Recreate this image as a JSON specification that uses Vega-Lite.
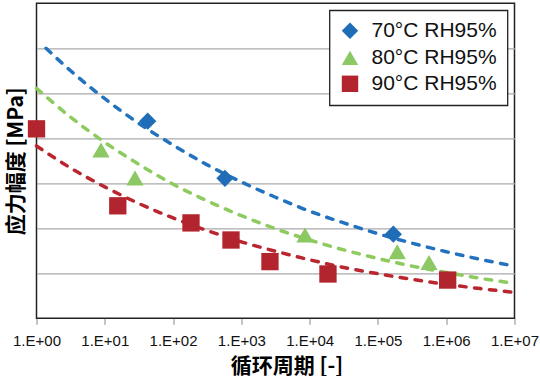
{
  "$schema": "https://vega.github.io/schema/vega-lite/v6.json",
  "width": 478,
  "height": 315,
  "autosize": {"type": "none"},
  "padding": {"left": 36.5, "top": 3.3, "right": 25.5, "bottom": 57.7},
  "background": "white",
  "datasets": {
    "fit": [
      {"series": "70°C RH95%", "N": 1.38, "S": 6.00},
      {"series": "70°C RH95%", "N": 3.162, "S": 5.50},
      {"series": "70°C RH95%", "N": 10, "S": 4.88},
      {"series": "70°C RH95%", "N": 31.62, "S": 4.33},
      {"series": "70°C RH95%", "N": 100, "S": 3.85},
      {"series": "70°C RH95%", "N": 316.2, "S": 3.41},
      {"series": "70°C RH95%", "N": 1000, "S": 3.03},
      {"series": "70°C RH95%", "N": 3162, "S": 2.69},
      {"series": "70°C RH95%", "N": 10000, "S": 2.38},
      {"series": "70°C RH95%", "N": 31623, "S": 2.12},
      {"series": "70°C RH95%", "N": 100000, "S": 1.88},
      {"series": "70°C RH95%", "N": 316228, "S": 1.67},
      {"series": "70°C RH95%", "N": 1000000, "S": 1.48},
      {"series": "70°C RH95%", "N": 3162278, "S": 1.31},
      {"series": "70°C RH95%", "N": 10000000, "S": 1.16},
      {"series": "80°C RH95%", "N": 1, "S": 5.11},
      {"series": "80°C RH95%", "N": 3.162, "S": 4.47},
      {"series": "80°C RH95%", "N": 10, "S": 3.91},
      {"series": "80°C RH95%", "N": 31.62, "S": 3.42},
      {"series": "80°C RH95%", "N": 100, "S": 2.98},
      {"series": "80°C RH95%", "N": 316.2, "S": 2.61},
      {"series": "80°C RH95%", "N": 1000, "S": 2.28},
      {"series": "80°C RH95%", "N": 3162, "S": 1.99},
      {"series": "80°C RH95%", "N": 10000, "S": 1.74},
      {"series": "80°C RH95%", "N": 31623, "S": 1.52},
      {"series": "80°C RH95%", "N": 100000, "S": 1.33},
      {"series": "80°C RH95%", "N": 316228, "S": 1.16},
      {"series": "80°C RH95%", "N": 1000000, "S": 1.02},
      {"series": "80°C RH95%", "N": 3162278, "S": 0.888},
      {"series": "80°C RH95%", "N": 10000000, "S": 0.776},
      {"series": "90°C RH95%", "N": 1, "S": 3.83},
      {"series": "90°C RH95%", "N": 3.162, "S": 3.34},
      {"series": "90°C RH95%", "N": 10, "S": 2.92},
      {"series": "90°C RH95%", "N": 31.62, "S": 2.55},
      {"series": "90°C RH95%", "N": 100, "S": 2.23},
      {"series": "90°C RH95%", "N": 316.2, "S": 1.95},
      {"series": "90°C RH95%", "N": 1000, "S": 1.70},
      {"series": "90°C RH95%", "N": 3162, "S": 1.49},
      {"series": "90°C RH95%", "N": 10000, "S": 1.30},
      {"series": "90°C RH95%", "N": 31623, "S": 1.13},
      {"series": "90°C RH95%", "N": 100000, "S": 0.99},
      {"series": "90°C RH95%", "N": 316228, "S": 0.865},
      {"series": "90°C RH95%", "N": 1000000, "S": 0.755},
      {"series": "90°C RH95%", "N": 3162278, "S": 0.66},
      {"series": "90°C RH95%", "N": 10000000, "S": 0.576}
    ],
    "obs": [
      {"series": "70°C RH95%", "N": 42.5, "S": 4.38},
      {"series": "70°C RH95%", "N": 575, "S": 3.11},
      {"series": "70°C RH95%", "N": 168000, "S": 1.87},
      {"series": "80°C RH95%", "N": 8.8, "S": 3.74},
      {"series": "80°C RH95%", "N": 27.7, "S": 3.12},
      {"series": "80°C RH95%", "N": 8550, "S": 1.85},
      {"series": "80°C RH95%", "N": 192000, "S": 1.48},
      {"series": "80°C RH95%", "N": 560000, "S": 1.24},
      {"series": "90°C RH95%", "N": 1, "S": 4.21},
      {"series": "90°C RH95%", "N": 15.5, "S": 2.50},
      {"series": "90°C RH95%", "N": 183, "S": 2.12},
      {"series": "90°C RH95%", "N": 705, "S": 1.74},
      {"series": "90°C RH95%", "N": 2624, "S": 1.26},
      {"series": "90°C RH95%", "N": 18550, "S": 0.985},
      {"series": "90°C RH95%", "N": 1050000, "S": 0.85}
    ]
  },
  "layer": [
    {
      "data": {"name": "fit"},
      "mark": {"type": "line", "strokeWidth": 3.5, "strokeDash": [6.5, 8.5], "strokeCap": "round", "interpolate": "monotone"},
      "encoding": {
        "x": {
          "field": "N", "type": "quantitative",
          "scale": {"type": "log", "domain": [1, 10000000], "nice": false},
          "axis": {
            "title": "循环周期 [-]",
            "values": [1, 10, 100, 1000, 10000, 100000, 1000000, 10000000],
            "labelExpr": "'1.E+0' + round(log(datum.value)/LN10)",
            "grid": false, "domain": false,
            "tickColor": "#888", "tickSize": 6, "tickWidth": 1,
            "labelFont": "Liberation Sans", "labelFontSize": 15, "labelColor": "#111",
            "labelPadding": 9, "labelFlush": false, "labelOverlap": false,
            "titleFont": "Noto Sans CJK SC", "titleFontSize": 21, "titleFontWeight": "bold",
            "titleColor": "#000", "titlePadding": 7, "titleX": 250
          }
        },
        "y": {
          "field": "S", "type": "quantitative",
          "scale": {"domain": [0, 7], "nice": false, "zero": false},
          "axis": {
            "title": "应力幅度 [MPa]",
            "values": [1, 2, 3, 4, 5, 6],
            "labels": false, "ticks": false, "domain": false,
            "grid": true, "gridColor": "#aaa", "gridWidth": 1.2,
            "titleFont": "Noto Sans CJK SC", "titleFontSize": 21, "titleFontWeight": "bold",
            "titleColor": "#000", "titlePadding": 10
          }
        },
        "stroke": {
          "field": "series", "type": "nominal",
          "scale": {"domain": ["70°C RH95%", "80°C RH95%", "90°C RH95%"], "range": ["#2372be", "#8dcb5f", "#b9262f"]},
          "legend": null
        }
      }
    },
    {
      "data": {"name": "obs"},
      "mark": {"type": "point", "filled": true, "opacity": 1, "size": 300},
      "encoding": {
        "x": {"field": "N", "type": "quantitative"},
        "y": {"field": "S", "type": "quantitative"},
        "color": {
          "field": "series", "type": "nominal",
          "scale": {"domain": ["70°C RH95%", "80°C RH95%", "90°C RH95%"], "range": ["#1f6db6", "#8cc864", "#b2242e"]},
          "legend": {"title": null}
        },
        "shape": {
          "field": "series", "type": "nominal",
          "scale": {"domain": ["70°C RH95%", "80°C RH95%", "90°C RH95%"], "range": ["diamond", "triangle-up", "square"]},
          "legend": {"title": null}
        }
      }
    }
  ],
  "resolve": {"legend": {"stroke": "independent"}},
  "config": {
    "view": {"stroke": "#222", "strokeWidth": 1.5},
    "legend": {
      "orient": "top-right", "offset": 7,
      "strokeColor": "#222", "strokeWidth": 1.3, "fillColor": "white",
      "padding": 10, "symbolSize": 270, "symbolOpacity": 1,
      "labelFontSize": 21, "labelFont": "Liberation Sans", "labelColor": "#111",
      "labelOffset": 11, "rowPadding": 4, "labelLimit": 300
    }
  }
}
